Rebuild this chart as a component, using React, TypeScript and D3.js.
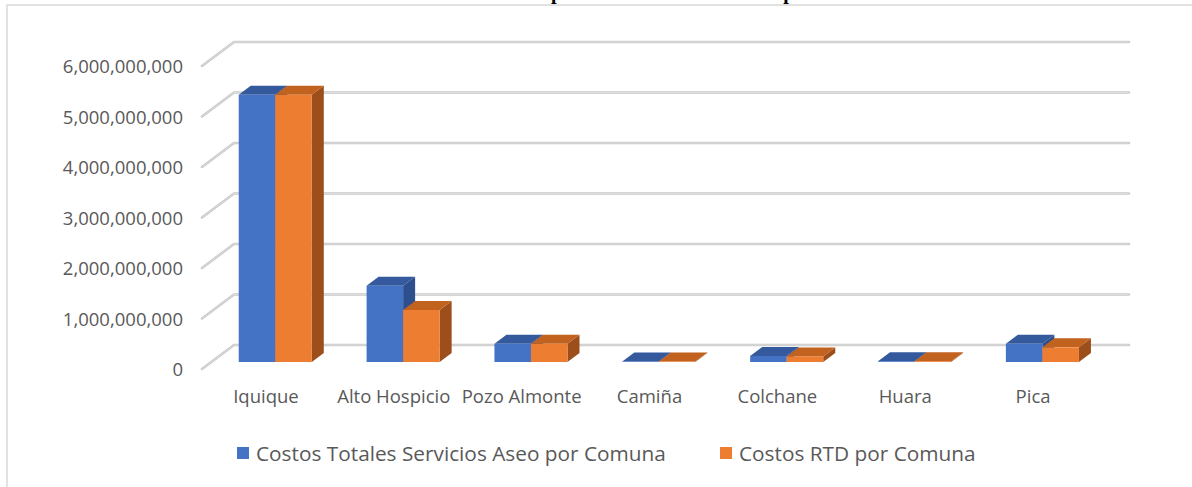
import React from "react";
import * as d3 from "d3";

const categories = ["Iquique", "Alto Hospicio", "Pozo Almonte", "Camiña", "Colchane", "Huara", "Pica"];
const costosTotales = [5.29e9, 1.51e9, 0.36e9, 0.01e9, 0.12e9, 0.015e9, 0.36e9];
const costosRTD = [5.29e9, 1.03e9, 0.36e9, 0.01e9, 0.11e9, 0.015e9, 0.29e9];
const seriesNames = ["Costos Totales Servicios Aseo por Comuna", "Costos RTD por Comuna"];
const yTicks = [0, 1e9, 2e9, 3e9, 4e9, 5e9, 6e9];
const titleText = "Comparación de Costos Totales por Comuna";

const W = 1192;
const H = 487;
const FONT = "'Open Sans', 'Noto Sans', sans-serif";

// Oblique 3D projection: full floor depth offset (front -> back)
const DEPTH_DX = 32;
const DEPTH_DY = -24;
const BAR_FRONT = 17 / 24; // fraction of depth from back wall to bar front plane
const BAR_BACK = 8 / 24;

const colors = [
  { front: "#4472C4", top: "#34599D", side: "#2E4F8E" },
  { front: "#ED7D31", top: "#C2621F", side: "#9C4E1B" },
];

export default function App() {
  const x = d3.scaleBand<string>().domain(categories).range([234, 1129]).paddingInner(0.4286).paddingOuter(0.2143);
  const sub = d3.scaleBand<number>().domain([0, 1]).range([0, x.bandwidth()]);
  const y = d3.scaleLinear().domain([0, 6e9]).range([345, 42]);
  const fmt = d3.format(",");

  const px = (xb: number, f: number) => xb - f * DEPTH_DX;
  const py = (yb: number, f: number) => yb - f * DEPTH_DY;

  const series = [costosTotales, costosRTD];

  const bars: React.ReactNode[] = [];
  categories.forEach((c, i) => {
    series.forEach((vals, s) => {
      const xb0 = (x(c) as number) + (sub(s) as number);
      const xb1 = xb0 + sub.bandwidth();
      const x0 = px(xb0, BAR_FRONT);
      const x1 = px(xb1, BAR_FRONT);
      const yt = py(y(vals[i]), BAR_FRONT);
      const yb = py(y(0), BAR_FRONT);
      const dx = (BAR_FRONT - BAR_BACK) * DEPTH_DX;
      const dy = (BAR_FRONT - BAR_BACK) * DEPTH_DY;
      const col = colors[s];
      bars.push(
        <g key={`${c}-${s}`}>
          <polygon
            points={`${x1},${yt} ${x1 + dx},${yt + dy} ${x1 + dx},${yb + dy} ${x1},${yb}`}
            fill={col.side}
          />
          <polygon
            points={`${x0},${yt} ${x1},${yt} ${x1 + dx},${yt + dy} ${x0 + dx},${yt + dy}`}
            fill={col.top}
          />
          <rect x={x0} y={yt} width={x1 - x0} height={Math.max(0, yb - yt)} fill={col.front} />
        </g>
      );
    });
  });

  return (
    <svg
      width={W}
      height={H}
      style={{ position: "absolute", left: 0, top: 0, background: "#fff" }}
    >
      <text
        x={510}
        y={-1}
        fontFamily="'Liberation Serif', 'Times New Roman', serif"
        fontWeight="bold"
        fontSize={20}
        fill="#000"
      >
        {titleText}
      </text>
      <rect x={7} y={5} width={1200} height={500} fill="none" stroke="#d9d9d9" strokeWidth={1.5} />

      {yTicks.map((t) => {
        const yb = y(t);
        return (
          <g key={t}>
            <polyline
              points={`${px(234, 1)},${py(yb, 1)} 234,${yb} 1129,${yb}`}
              fill="none"
              stroke="#c9c9c9"
              strokeWidth={2.6}
              strokeLinejoin="round"
              strokeLinecap="round"
            />
            <polyline
              points={`${px(234, 1)},${py(yb, 1)} 234,${yb} 1129,${yb}`}
              fill="none"
              stroke="#dcdcdc"
              strokeWidth={1}
              strokeLinejoin="round"
            />
            <text
              x={183}
              y={py(yb, 1) + 7}
              textAnchor="end"
              fontFamily={FONT}
              fontSize={18.5}
              fill="#595959"
            >
              {fmt(t)}
            </text>
          </g>
        );
      })}

      {bars}

      {categories.map((c) => (
        <text
          key={c}
          x={px((x(c) as number) + x.bandwidth() / 2, 1)}
          y={403}
          textAnchor="middle"
          fontFamily={FONT}
          fontSize={18.5}
          fill="#595959"
        >
          {c}
        </text>
      ))}

      <g>
        <rect x={237} y={447} width={12} height={12} fill={colors[0].front} />
        <text x={256} y={461} fontFamily={FONT} fontSize={20.8} fill="#595959">
          {seriesNames[0]}
        </text>
        <rect x={720} y={447} width={12} height={12} fill={colors[1].front} />
        <text x={739} y={461} fontFamily={FONT} fontSize={20.8} fill="#595959">
          {seriesNames[1]}
        </text>
      </g>
    </svg>
  );
}
